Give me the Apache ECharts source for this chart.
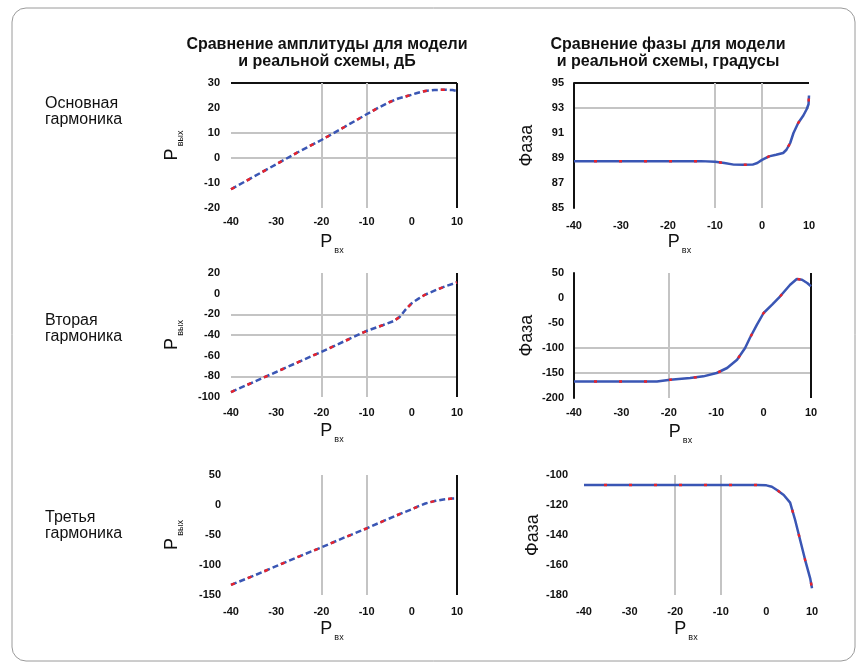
<!DOCTYPE html>
<html><head><meta charset="utf-8">
<script src="https://cdn.jsdelivr.net/npm/echarts@6/dist/echarts.min.js"></script>
<style>html,body{margin:0;padding:0;background:#fff}#c{width:864px;height:667px}</style>
</head><body><div id="c"></div>
<script>
// ---------- data ----------
const rowLabels = ['Основная\nгармоника', 'Вторая\nгармоника', 'Третья\nгармоника'];
const colTitles = ['Сравнение амплитуды для модели\nи реальной схемы, дБ', 'Сравнение фазы для модели\nи реальной схемы, градусы'];
const xTicks = [-40, -30, -20, -10, 0, 10];

// Panel 1: fundamental amplitude
const amp1X = [-40,-35,-30,-25,-20,-15,-10,-7,-5,-3,-1,0,1,2,3,5,7,9,10];
const amp1Model = [-12.5,-7.5,-2.5,2.5,7.2,12.3,17.5,20.5,22.3,23.8,24.8,25.3,25.9,26.4,26.8,27.2,27.3,27.2,26.8];
const amp1Meas  = [-12.5,-7.5,-2.5,2.5,7.2,12.3,17.5,20.5,22.3,23.8,24.8,25.3,25.9,26.4,26.8,27.2,27.3,27.2,26.8];
// Panel 2: fundamental phase
const ph1X = [-40,-30,-20,-13,-10,-8,-6,-4,-2,-1,0,1.5,3,4.5,5.2,6,6.7,7.7,8.8,9.5,9.9,10];
const ph1Model = [88.75,88.75,88.75,88.75,88.7,88.6,88.47,88.46,88.47,88.6,88.85,89.13,89.26,89.4,89.66,90.2,91.0,91.8,92.4,92.9,93.3,94.0];
const ph1Meas  = [88.75,88.75,88.75,88.75,88.7,88.6,88.47,88.46,88.47,88.6,88.85,89.13,89.26,89.4,89.66,90.2,91.0,91.8,92.4,92.9,93.3,94.0];
// Panel 3: second harmonic amplitude
const amp2X = [-40,-35,-30,-25,-20,-15,-10,-6.3,-4,-2.6,-1.5,0,1.5,2.9,5.5,7.7,10];
const amp2Model = [-95.2,-85.5,-75.8,-66,-56.3,-46.2,-36.1,-30.3,-26.5,-22.2,-16,-9.2,-4.8,-1.1,3.8,7.6,10.9];
const amp2Meas  = [-95.2,-85.5,-75.8,-66,-56.3,-46.2,-36.1,-30.3,-26.5,-22.2,-16,-9.2,-4.8,-1.1,3.8,7.6,10.9];
// Panel 4: second harmonic phase
const ph2X = [-40,-30,-22.5,-19.7,-15.5,-12.7,-9.9,-7.7,-5.6,-3.9,-2.9,-1.4,0,1.8,3.5,5.6,7.0,8.1,9.2,10];
const ph2Model = [-167,-167,-167,-163.4,-160,-156.7,-150,-140,-123.4,-100,-80,-53.4,-30,-13.4,3.4,26.6,38,36.6,30,23.4];
const ph2Meas  = [-167,-167,-167,-163.4,-160,-156.7,-150,-140,-123.4,-100,-80,-53.4,-30,-13.4,3.4,26.6,38,36.6,30,23.4];
// Panel 5: third harmonic amplitude
const amp3X = [-40,-35,-30,-25,-20,-15,-10,-7,-4,-2,0,1.5,3,5,7,9,10];
const amp3Model = [-133,-118,-102,-86,-70.6,-54.5,-39,-29,-19.4,-13,-7.2,-2,2.5,6.5,9.3,10.8,11];
const amp3Meas  = [-133,-118,-102,-86,-70.6,-54.5,-39,-29,-19.4,-13,-7.2,-2,2.5,6.5,9.3,10.8,11];
// Panel 6: third harmonic phase
const ph3X = [-40,-30,-20,-10,-2,0,1.2,2.3,3.8,5.2,6.3,7.4,8.5,9.6,10];
const ph3Model = [-106.7,-106.7,-106.7,-106.7,-106.7,-106.9,-107.8,-110,-113.3,-118.4,-130,-143.3,-156.7,-168.9,-175.5];
const ph3Meas  = [-106.7,-106.7,-106.7,-106.7,-106.7,-106.9,-107.8,-110,-113.3,-118.4,-130,-143.3,-156.7,-168.9,-175.5];

// y-axis ranges [min, max, interval]
const yRanges = [[-20,30,10],[85,95,2],[-100,20,20],[-200,50,50],[-150,50,50],[-180,-100,20]];

// ---------- styling ----------
const FONT = 'Liberation Sans, Arial, sans-serif';
const G = '#c4c4c4', K = '#111', T = 'transparent';
const BLUE = '#3a56b4', RED = '#e8232b';

const grids = [
  {left:231, top:83,  width:226, height:125},
  {left:574, top:83,  width:235, height:125},
  {left:231, top:273, width:226, height:124},
  {left:574, top:273, width:237, height:125},
  {left:231, top:475, width:226, height:120},
  {left:584, top:475, width:228, height:120}
];
// split line colours per tick index (from min upward)
const xSplit = [
  [T,T,G,G,T,K],[T,T,T,G,G,T],[T,T,G,G,T,K],[T,T,G,T,T,K],[T,T,G,G,T,K],[T,T,G,G,T,T]
];
const ySplit = [
  [T,T,G,G,T,K],[T,T,T,T,G,K],[T,G,T,G,G,T,T],[T,G,G,T,T,T],[T,T,T,T,T],[T,T,T,T,T]
];
const yAxisLine = [false,true,false,true,false,false];
const xLabelMargin = [8,12,10,9,11,11];
const yLabelMargin = [11,10,11,10,10,16];

const tickLabel = (m) => ({color:'#111', fontWeight:'bold', fontSize:11, fontFamily:FONT, margin:m});
const xName = {
  name:'{p|P}{s|вх}', nameLocation:'middle', nameGap:22,
  nameTextStyle:{padding:[0,24,0,0], rich:{
    p:{fontSize:18, fontFamily:FONT, color:'#111'},
    s:{fontSize:9, fontFamily:FONT, color:'#111', padding:[16,0,0,2]}
  }}
};

const xAxes = grids.map((g,i) => Object.assign({
  gridIndex:i, type:'value', min:-40, max:10, interval:10,
  axisLine:{show:false, onZero:false}, axisTick:{show:false},
  axisLabel:tickLabel(xLabelMargin[i]),
  splitLine:{show:true, lineStyle:{color:xSplit[i], width:2}}
}, xName));

const yAxes = grids.map((g,i) => {
  const amp = i % 2 === 0;
  return {
    gridIndex:i, type:'value', min:yRanges[i][0], max:yRanges[i][1], interval:yRanges[i][2],
    axisLine:{show:yAxisLine[i], onZero:false, lineStyle:{color:K, width:2}},
    axisTick:{show:false},
    axisLabel:tickLabel(yLabelMargin[i]),
    splitLine:{show:true, lineStyle:{color:ySplit[i], width:2}},
    name: amp ? '{p|P}{s|вых}' : 'Фаза',
    nameLocation:'middle', nameGap: amp ? 46 : 38,
    nameTextStyle: amp ? {rich:{
      p:{fontSize:18, fontFamily:FONT, color:'#111'},
      s:{fontSize:9, fontFamily:FONT, color:'#111', padding:[16,0,0,2]}
    }} : {fontSize:18, fontFamily:FONT, color:'#111'}
  };
});

const panels = [
  [amp1X, amp1Meas, amp1Model],[ph1X, ph1Meas, ph1Model],
  [amp2X, amp2Meas, amp2Model],[ph2X, ph2Meas, ph2Model],
  [amp3X, amp3Meas, amp3Model],[ph3X, ph3Meas, ph3Model]
];
const series = [];
panels.forEach((p,i) => {
  const amp = i % 2 === 0;
  series.push({type:'line', xAxisIndex:i, yAxisIndex:i, showSymbol:false, silent:true,
    data:p[0].map((x,k)=>[x,p[1][k]]),
    lineStyle:{color:BLUE, width:2.5, type: amp ? [6,3] : 'solid'}});
  series.push({type:'line', xAxisIndex:i, yAxisIndex:i, showSymbol:false, silent:true,
    data:p[0].map((x,k)=>[x,p[2][k]]),
    lineStyle:{color:RED, width:2.5, type: amp ? [4,14] : [3,22], dashOffset: amp ? 0 : 5}});
});

const graphic = [
  {type:'rect', shape:{x:12, y:8, width:843, height:653, r:14}, style:{fill:'none', stroke:'#9a9a9a', lineWidth:1}, silent:true},
  {type:'text', left:45, top:96, style:{text:rowLabels[0], font:'16px '+FONT, fill:'#111', lineHeight:16}},
  {type:'text', left:45, top:313, style:{text:rowLabels[1], font:'16px '+FONT, fill:'#111', lineHeight:16}},
  {type:'text', left:45, top:510, style:{text:rowLabels[2], font:'16px '+FONT, fill:'#111', lineHeight:16}},
  {type:'text', x:327, y:36, style:{text:colTitles[0], font:'bold 16px '+FONT, fill:'#111', align:'center', lineHeight:17}},
  {type:'text', x:668, y:36, style:{text:colTitles[1], font:'bold 16px '+FONT, fill:'#111', align:'center', lineHeight:17}}
];

const chart = echarts.init(document.getElementById('c'), null, {renderer:'canvas'});
chart.setOption({
  animation:false, backgroundColor:'#fff',
  grid:grids, xAxis:xAxes, yAxis:yAxes, series, graphic
});
</script></body></html>
